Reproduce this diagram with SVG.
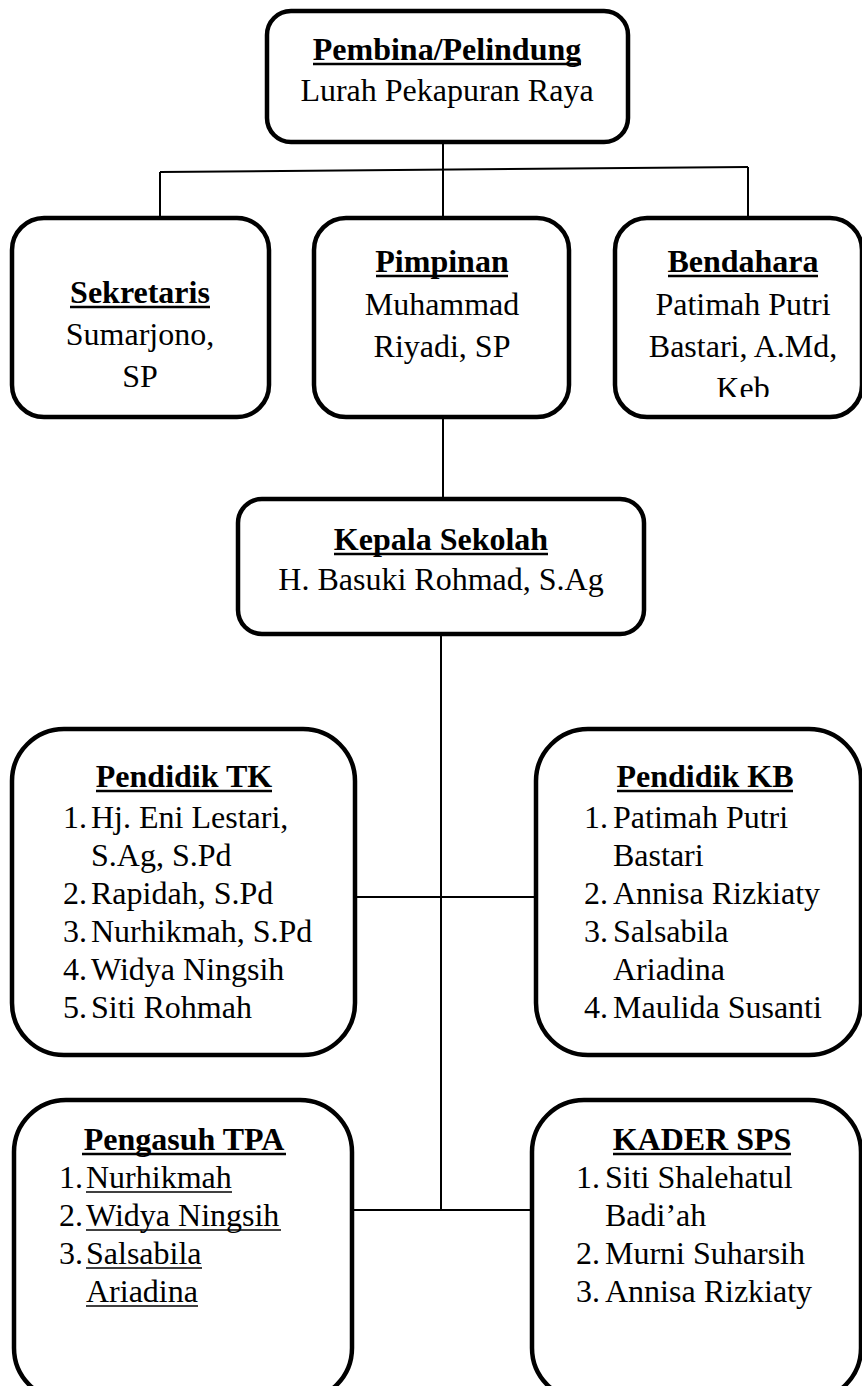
<svg xmlns="http://www.w3.org/2000/svg" width="862" height="1386" viewBox="0 0 862 1386">
<style>
.box{fill:#fff;stroke:#000;stroke-width:4.5}
.conn{stroke:#000;stroke-width:2;fill:none}
text{font-family:"Liberation Serif","Times New Roman",serif;font-size:32px;fill:#000}
.t{font-weight:bold;text-anchor:middle}
.c{text-anchor:middle}
.ul{stroke:#000;stroke-width:2.6}
.ur{stroke:#000;stroke-width:1.6}
</style>
<defs>
<clipPath id="clipKeb"><rect x="612" y="214" width="252" height="183"/></clipPath>
</defs>
<rect width="862" height="1386" fill="#fff"/>
<g id="connectors">
<line class="conn" x1="443" y1="142" x2="443" y2="217"/>
<line class="conn" x1="160" y1="172" x2="748" y2="167"/>
<line class="conn" x1="160" y1="172" x2="160" y2="217"/>
<line class="conn" x1="748" y1="167" x2="748" y2="217"/>
<line class="conn" x1="443" y1="418" x2="443" y2="498"/>
<line class="conn" x1="441" y1="633" x2="441" y2="1210"/>
<line class="conn" x1="357" y1="897" x2="536" y2="897"/>
<line class="conn" x1="354" y1="1210" x2="533" y2="1210"/>
</g>
<g id="pembina">
<rect class="box" x="267" y="11" width="361" height="131" rx="24"/>
<text class="t" x="447" y="60">Pembina/Pelindung</text>
<line class="ul" x1="313" y1="64" x2="581" y2="64"/>
<text class="c" x="447" y="101">Lurah Pekapuran Raya</text>
</g>
<g id="sekretaris">
<rect class="box" x="12" y="218" width="257" height="199" rx="32"/>
<text class="t" x="140" y="303">Sekretaris</text>
<line class="ul" x1="70" y1="307" x2="210" y2="307"/>
<text class="c" x="140" y="345">Sumarjono,</text>
<text class="c" x="140" y="387">SP</text>
</g>
<g id="pimpinan">
<rect class="box" x="314" y="218" width="255" height="199" rx="32"/>
<text class="t" x="442" y="272">Pimpinan</text>
<line class="ul" x1="376" y1="276" x2="508" y2="276"/>
<text class="c" x="442" y="315">Muhammad</text>
<text class="c" x="442" y="357">Riyadi, SP</text>
</g>
<g id="bendahara">
<rect class="box" x="615" y="218" width="247" height="199" rx="32"/>
<text class="t" x="743" y="272">Bendahara</text>
<line class="ul" x1="668" y1="276" x2="818" y2="276"/>
<text class="c" x="743" y="315">Patimah Putri</text>
<text class="c" x="743" y="357">Bastari, A.Md,</text>
<text class="c" x="743" y="399" clip-path="url(#clipKeb)">Keb</text>
</g>
<g id="kepala">
<rect class="box" x="238" y="499" width="406" height="135" rx="24"/>
<text class="t" x="441" y="550">Kepala Sekolah</text>
<line class="ul" x1="334" y1="554" x2="548" y2="554"/>
<text class="c" x="441" y="590">H. Basuki Rohmad, S.Ag</text>
</g>
<g id="pendidik-tk">
<rect class="box" x="12" y="729" width="343" height="326" rx="52"/>
<text class="t" x="184" y="787">Pendidik TK</text>
<line class="ul" x1="96" y1="791" x2="272" y2="791"/>
<text x="63" y="828">1.</text><text x="91" y="828">Hj. Eni Lestari,</text>
<text x="91" y="866">S.Ag, S.Pd</text>
<text x="63" y="904">2.</text><text x="91" y="904">Rapidah, S.Pd</text>
<text x="63" y="942">3.</text><text x="91" y="942">Nurhikmah, S.Pd</text>
<text x="63" y="980">4.</text><text x="91" y="980">Widya Ningsih</text>
<text x="63" y="1018">5.</text><text x="91" y="1018">Siti Rohmah</text>
</g>
<g id="pendidik-kb">
<rect class="box" x="536" y="729" width="325" height="326" rx="52"/>
<text class="t" x="705" y="787">Pendidik KB</text>
<line class="ul" x1="617" y1="791" x2="793" y2="791"/>
<text x="584" y="828">1.</text><text x="613" y="828">Patimah Putri</text>
<text x="613" y="866">Bastari</text>
<text x="584" y="904">2.</text><text x="613" y="904">Annisa Rizkiaty</text>
<text x="584" y="942">3.</text><text x="613" y="942">Salsabila</text>
<text x="613" y="980">Ariadina</text>
<text x="584" y="1018">4.</text><text x="613" y="1018">Maulida Susanti</text>
</g>
<g id="pengasuh-tpa">
<rect class="box" x="14" y="1100" width="338" height="300" rx="52"/>
<text class="t" x="184" y="1150">Pengasuh TPA</text>
<line class="ul" x1="82" y1="1154" x2="286" y2="1154"/>
<text x="59" y="1188">1.</text><text x="86" y="1188">Nurhikmah</text>
<line class="ur" x1="86" y1="1192" x2="232" y2="1192"/>
<text x="59" y="1226">2.</text><text x="86" y="1226">Widya Ningsih</text>
<line class="ur" x1="86" y1="1230" x2="281" y2="1230"/>
<text x="59" y="1264">3.</text><text x="86" y="1264">Salsabila</text>
<line class="ur" x1="86" y1="1268" x2="202" y2="1268"/>
<text x="86" y="1302">Ariadina</text>
<line class="ur" x1="86" y1="1306" x2="198" y2="1306"/>
</g>
<g id="kader-sps">
<rect class="box" x="532" y="1100" width="329" height="300" rx="52"/>
<text class="t" x="702" y="1150">KADER SPS</text>
<line class="ul" x1="613" y1="1154" x2="791" y2="1154"/>
<text x="576" y="1188">1.</text><text x="605" y="1188">Siti Shalehatul</text>
<text x="605" y="1226">Badi’ah</text>
<text x="576" y="1264">2.</text><text x="605" y="1264">Murni Suharsih</text>
<text x="576" y="1302">3.</text><text x="605" y="1302">Annisa Rizkiaty</text>
</g>
</svg>
